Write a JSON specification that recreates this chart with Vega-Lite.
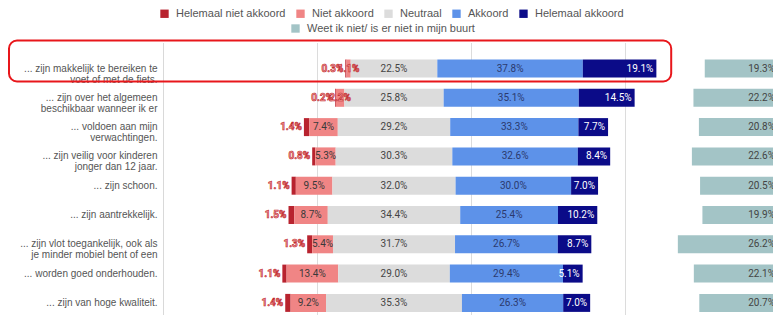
{
  "$schema": "https://vega.github.io/schema/vega-lite/v6.json",
  "padding": {"left": 8, "top": 7.5, "right": 0, "bottom": 0},
  "background": "white",
  "config": {"view": {"stroke": null}, "font": "Liberation Sans"},
  "datasets": {
    "survey": [
      {"q": "... zijn makkelijk te bereiken te|voet of met de fiets.", "cat": "Helemaal niet akkoord", "pct": 0.3},
      {"q": "... zijn makkelijk te bereiken te|voet of met de fiets.", "cat": "Niet akkoord", "pct": 1.1},
      {"q": "... zijn makkelijk te bereiken te|voet of met de fiets.", "cat": "Neutraal", "pct": 22.5},
      {"q": "... zijn makkelijk te bereiken te|voet of met de fiets.", "cat": "Akkoord", "pct": 37.8},
      {"q": "... zijn makkelijk te bereiken te|voet of met de fiets.", "cat": "Helemaal akkoord", "pct": 19.1},
      {"q": "... zijn makkelijk te bereiken te|voet of met de fiets.", "cat": "Weet ik niet/ is er niet in mijn buurt", "pct": 19.3},
      {"q": "... zijn over het algemeen|beschikbaar wanneer ik er", "cat": "Helemaal niet akkoord", "pct": 0.2},
      {"q": "... zijn over het algemeen|beschikbaar wanneer ik er", "cat": "Niet akkoord", "pct": 2.2},
      {"q": "... zijn over het algemeen|beschikbaar wanneer ik er", "cat": "Neutraal", "pct": 25.8},
      {"q": "... zijn over het algemeen|beschikbaar wanneer ik er", "cat": "Akkoord", "pct": 35.1},
      {"q": "... zijn over het algemeen|beschikbaar wanneer ik er", "cat": "Helemaal akkoord", "pct": 14.5},
      {"q": "... zijn over het algemeen|beschikbaar wanneer ik er", "cat": "Weet ik niet/ is er niet in mijn buurt", "pct": 22.2},
      {"q": "... voldoen aan mijn|verwachtingen.", "cat": "Helemaal niet akkoord", "pct": 1.4},
      {"q": "... voldoen aan mijn|verwachtingen.", "cat": "Niet akkoord", "pct": 7.4},
      {"q": "... voldoen aan mijn|verwachtingen.", "cat": "Neutraal", "pct": 29.2},
      {"q": "... voldoen aan mijn|verwachtingen.", "cat": "Akkoord", "pct": 33.3},
      {"q": "... voldoen aan mijn|verwachtingen.", "cat": "Helemaal akkoord", "pct": 7.7},
      {"q": "... voldoen aan mijn|verwachtingen.", "cat": "Weet ik niet/ is er niet in mijn buurt", "pct": 20.8},
      {"q": "... zijn veilig voor kinderen|jonger dan 12 jaar.", "cat": "Helemaal niet akkoord", "pct": 0.8},
      {"q": "... zijn veilig voor kinderen|jonger dan 12 jaar.", "cat": "Niet akkoord", "pct": 5.3},
      {"q": "... zijn veilig voor kinderen|jonger dan 12 jaar.", "cat": "Neutraal", "pct": 30.3},
      {"q": "... zijn veilig voor kinderen|jonger dan 12 jaar.", "cat": "Akkoord", "pct": 32.6},
      {"q": "... zijn veilig voor kinderen|jonger dan 12 jaar.", "cat": "Helemaal akkoord", "pct": 8.4},
      {"q": "... zijn veilig voor kinderen|jonger dan 12 jaar.", "cat": "Weet ik niet/ is er niet in mijn buurt", "pct": 22.6},
      {"q": "... zijn schoon.", "cat": "Helemaal niet akkoord", "pct": 1.1},
      {"q": "... zijn schoon.", "cat": "Niet akkoord", "pct": 9.5},
      {"q": "... zijn schoon.", "cat": "Neutraal", "pct": 32.0},
      {"q": "... zijn schoon.", "cat": "Akkoord", "pct": 30.0},
      {"q": "... zijn schoon.", "cat": "Helemaal akkoord", "pct": 7.0},
      {"q": "... zijn schoon.", "cat": "Weet ik niet/ is er niet in mijn buurt", "pct": 20.5},
      {"q": "... zijn aantrekkelijk.", "cat": "Helemaal niet akkoord", "pct": 1.5},
      {"q": "... zijn aantrekkelijk.", "cat": "Niet akkoord", "pct": 8.7},
      {"q": "... zijn aantrekkelijk.", "cat": "Neutraal", "pct": 34.4},
      {"q": "... zijn aantrekkelijk.", "cat": "Akkoord", "pct": 25.4},
      {"q": "... zijn aantrekkelijk.", "cat": "Helemaal akkoord", "pct": 10.2},
      {"q": "... zijn aantrekkelijk.", "cat": "Weet ik niet/ is er niet in mijn buurt", "pct": 19.9},
      {"q": "... zijn vlot toegankelijk, ook als|je minder mobiel bent of een", "cat": "Helemaal niet akkoord", "pct": 1.3},
      {"q": "... zijn vlot toegankelijk, ook als|je minder mobiel bent of een", "cat": "Niet akkoord", "pct": 5.4},
      {"q": "... zijn vlot toegankelijk, ook als|je minder mobiel bent of een", "cat": "Neutraal", "pct": 31.7},
      {"q": "... zijn vlot toegankelijk, ook als|je minder mobiel bent of een", "cat": "Akkoord", "pct": 26.7},
      {"q": "... zijn vlot toegankelijk, ook als|je minder mobiel bent of een", "cat": "Helemaal akkoord", "pct": 8.7},
      {"q": "... zijn vlot toegankelijk, ook als|je minder mobiel bent of een", "cat": "Weet ik niet/ is er niet in mijn buurt", "pct": 26.2},
      {"q": "... worden goed onderhouden.", "cat": "Helemaal niet akkoord", "pct": 1.1},
      {"q": "... worden goed onderhouden.", "cat": "Niet akkoord", "pct": 13.4},
      {"q": "... worden goed onderhouden.", "cat": "Neutraal", "pct": 29.0},
      {"q": "... worden goed onderhouden.", "cat": "Akkoord", "pct": 29.4},
      {"q": "... worden goed onderhouden.", "cat": "Helemaal akkoord", "pct": 5.1},
      {"q": "... worden goed onderhouden.", "cat": "Weet ik niet/ is er niet in mijn buurt", "pct": 22.1},
      {"q": "... zijn van hoge kwaliteit.", "cat": "Helemaal niet akkoord", "pct": 1.4},
      {"q": "... zijn van hoge kwaliteit.", "cat": "Niet akkoord", "pct": 9.2},
      {"q": "... zijn van hoge kwaliteit.", "cat": "Neutraal", "pct": 35.3},
      {"q": "... zijn van hoge kwaliteit.", "cat": "Akkoord", "pct": 26.3},
      {"q": "... zijn van hoge kwaliteit.", "cat": "Helemaal akkoord", "pct": 7.0},
      {"q": "... zijn van hoge kwaliteit.", "cat": "Weet ik niet/ is er niet in mijn buurt", "pct": 20.7}
    ]
  },
  "spacing": 47,
  "bounds": "flush",
  "hconcat": [
    {
      "width": 462,
      "height": 273,
      "data": {"name": "survey"},
      "transform": [
        {"filter": "datum.cat !== 'Weet ik niet/ is er niet in mijn buurt'"},
        {"calculate": "indexof(['Helemaal niet akkoord','Niet akkoord','Neutraal','Akkoord','Helemaal akkoord'], datum.cat)", "as": "ord"},
        {"calculate": "datum.ord < 2 ? datum.pct : (datum.ord === 2 ? datum.pct / 2 : 0)", "as": "leftpart"},
        {"joinaggregate": [{"op": "sum", "field": "leftpart", "as": "offset"}], "groupby": ["q"]},
        {"stack": "pct", "groupby": ["q"], "sort": [{"field": "ord", "order": "ascending"}], "as": ["s0", "s1"]},
        {"calculate": "datum.s0 - datum.offset", "as": "nx"},
        {"calculate": "datum.s1 - datum.offset", "as": "nx2"},
        {"calculate": "(datum.nx + datum.nx2) / 2", "as": "mid"},
        {"calculate": "format(datum.pct, '.1f') + '%'", "as": "lbl"}
      ],
      "encoding": {
        "y": {
          "field": "q",
          "type": "nominal",
          "sort": [
            "... zijn makkelijk te bereiken te|voet of met de fiets.",
            "... zijn over het algemeen|beschikbaar wanneer ik er",
            "... voldoen aan mijn|verwachtingen.",
            "... zijn veilig voor kinderen|jonger dan 12 jaar.",
            "... zijn schoon.",
            "... zijn aantrekkelijk.",
            "... zijn vlot toegankelijk, ook als|je minder mobiel bent of een",
            "... worden goed onderhouden.",
            "... zijn van hoge kwaliteit."
          ],
          "scale": {"paddingInner": 0.386, "paddingOuter": 0.352, "align": 0.825},
          "axis": {
            "title": null,
            "ticks": false,
            "domainColor": "#d9d9d9",
            "labelFont": "Liberation Sans",
            "labelFontSize": 10,
            "labelColor": "#555555",
            "labelPadding": 6,
            "labelLimit": 400,
            "labelLineHeight": 11,
            "labelExpr": "split(datum.label, '|')"
          }
        }
      },
      "layer": [
        {
          "mark": {"type": "bar"},
          "encoding": {
            "x": {
              "field": "nx",
              "type": "quantitative",
              "scale": {"domain": [-60, 60], "nice": false, "zero": false},
              "axis": {"values": [-60, -20, 20, 60], "labels": false, "ticks": false, "domain": false, "title": null, "grid": true, "gridColor": "#dcdcdc"}
            },
            "x2": {"field": "nx2"},
            "color": {
              "field": "cat",
              "type": "nominal",
              "scale": {
                "domain": ["Helemaal niet akkoord", "Niet akkoord", "Neutraal", "Akkoord", "Helemaal akkoord"],
                "range": ["#b8232f", "#f08585", "#dcdcdc", "#5d92e9", "#0b0b88"]
              },
              "legend": {
                "title": null,
                "orient": "none",
                "legendX": -4,
                "legendY": -34.5,
                "direction": "horizontal",
                "symbolType": "square",
                "symbolSize": 70,
                "symbolStrokeWidth": 0,
                "labelFont": "Liberation Sans",
                "labelFontSize": 11,
                "labelColor": "#555555",
                "labelOffset": 6,
                "labelLimit": 300,
                "columnPadding": 9
              }
            }
          }
        },
        {
          "transform": [{"filter": "datum.cat === 'Helemaal niet akkoord'"}],
          "mark": {"type": "text", "align": "right", "dx": -2, "font": "Roboto", "fontSize": 10, "fontWeight": "bold", "fill": "#f29a9a", "stroke": "#c0282d", "strokeWidth": 0.6},
          "encoding": {"x": {"field": "nx", "type": "quantitative"}, "text": {"field": "lbl"}}
        },
        {
          "transform": [{"filter": "datum.cat === 'Niet akkoord' && datum.pct < 3"}],
          "mark": {"type": "text", "align": "center", "font": "Roboto", "fontSize": 10, "fontWeight": "bold", "fill": "#f29a9a", "stroke": "#c0282d", "strokeWidth": 0.6},
          "encoding": {"x": {"field": "mid", "type": "quantitative"}, "text": {"field": "lbl"}}
        },
        {
          "transform": [{"filter": "datum.cat === 'Niet akkoord' && datum.pct >= 3"}],
          "mark": {"type": "text", "align": "center", "font": "Roboto", "fontSize": 10, "fill": "#3a3a3a"},
          "encoding": {"x": {"field": "mid", "type": "quantitative"}, "text": {"field": "lbl"}}
        },
        {
          "transform": [{"filter": "datum.cat === 'Neutraal'"}],
          "mark": {"type": "text", "align": "center", "font": "Roboto", "fontSize": 10, "fill": "#444444"},
          "encoding": {"x": {"field": "mid", "type": "quantitative"}, "text": {"field": "lbl"}}
        },
        {
          "transform": [{"filter": "datum.cat === 'Akkoord'"}],
          "mark": {"type": "text", "align": "center", "font": "Roboto", "fontSize": 10, "fill": "#2c3a6e"},
          "encoding": {"x": {"field": "mid", "type": "quantitative"}, "text": {"field": "lbl"}}
        },
        {
          "transform": [{"filter": "datum.cat === 'Helemaal akkoord'"}],
          "mark": {"type": "text", "align": "right", "dx": -3, "font": "Roboto", "fontSize": 10, "fill": "white"},
          "encoding": {"x": {"field": "nx2", "type": "quantitative"}, "text": {"field": "lbl"}}
        },
        {
          "transform": [{"filter": "datum.q === '... zijn makkelijk te bereiken te|voet of met de fiets.' && datum.cat === 'Neutraal'"}],
          "mark": {"type": "bar", "height": 41, "yOffset": -7.5, "cornerRadius": 8, "filled": false, "fill": "transparent", "stroke": "#e8161b", "strokeWidth": 2},
          "encoding": {"x": {"datum": -100}, "x2": {"datum": 72}}
        }
      ]
    },
    {
      "width": 101,
      "height": 273,
      "data": {"name": "survey"},
      "transform": [
        {"filter": "datum.cat === 'Weet ik niet/ is er niet in mijn buurt'"},
        {"calculate": "format(datum.pct, '.1f') + '%'", "as": "lbl"}
      ],
      "encoding": {
        "y": {
          "field": "q",
          "type": "nominal",
          "sort": [
            "... zijn makkelijk te bereiken te|voet of met de fiets.",
            "... zijn over het algemeen|beschikbaar wanneer ik er",
            "... voldoen aan mijn|verwachtingen.",
            "... zijn veilig voor kinderen|jonger dan 12 jaar.",
            "... zijn schoon.",
            "... zijn aantrekkelijk.",
            "... zijn vlot toegankelijk, ook als|je minder mobiel bent of een",
            "... worden goed onderhouden.",
            "... zijn van hoge kwaliteit."
          ],
          "scale": {"paddingInner": 0.386, "paddingOuter": 0.352, "align": 0.825},
          "axis": null
        }
      },
      "layer": [
        {
          "mark": {"type": "bar", "clip": true},
          "encoding": {
            "x": {"field": "pct", "type": "quantitative", "scale": {"domain": [1.8, 27.7], "reverse": true, "zero": false, "nice": false}, "axis": null},
            "x2": {"datum": 0},
            "fill": {
              "field": "cat",
              "type": "nominal",
              "scale": {"domain": ["Weet ik niet/ is er niet in mijn buurt"], "range": ["#a3c4c6"]},
              "legend": {
                "title": null,
                "orient": "none",
                "legendX": 127,
                "legendY": -19.5,
                "symbolType": "square",
                "symbolSize": 70,
                "symbolStrokeWidth": 0,
                "labelFont": "Liberation Sans",
                "labelFontSize": 11,
                "labelColor": "#555555",
                "labelOffset": 6,
                "labelLimit": 300
              }
            }
          }
        },
        {
          "mark": {"type": "text", "align": "right", "dx": -5, "clip": true, "font": "Roboto", "fontSize": 10, "fill": "#444444"},
          "encoding": {"x": {"datum": 0, "type": "quantitative"}, "text": {"field": "lbl"}}
        }
      ]
    }
  ]
}
